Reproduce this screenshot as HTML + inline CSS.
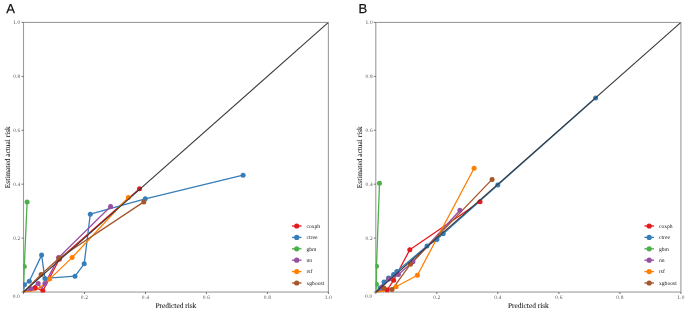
<!DOCTYPE html>
<html><head><meta charset="utf-8"><style>
html,body{margin:0;padding:0;background:#fff;width:685px;height:312px;overflow:hidden}
svg{display:block;will-change:transform} text{text-rendering:geometricPrecision}
.tk{font-family:"Liberation Serif",serif;font-size:5.4px;fill:#555;letter-spacing:0.2px}
.at{font-family:"Liberation Serif",serif;font-size:7.4px;fill:#111;stroke:#111;stroke-width:0.05px}
.lg{font-family:"Liberation Serif",serif;font-size:5.6px;fill:#222}
.lt{font-family:"Liberation Sans",sans-serif;font-size:13px;fill:#111;stroke:#111;stroke-width:0.25px}
</style></head><body>
<svg width="685" height="312" viewBox="0 0 685 312">
<rect x="23.5" y="22.45" width="304.9" height="269.6" fill="none" stroke="#9c9c9c" stroke-width="1.1"/><line x1="23.5" y1="292.0" x2="23.5" y2="294.0" stroke="#555" stroke-width="0.8"/><line x1="21.5" y1="292.0" x2="23.5" y2="292.0" stroke="#555" stroke-width="0.8"/><line x1="84.5" y1="292.0" x2="84.5" y2="294.0" stroke="#555" stroke-width="0.8"/><line x1="21.5" y1="238.1" x2="23.5" y2="238.1" stroke="#555" stroke-width="0.8"/><text x="84.5" y="299.0" class="tk" text-anchor="middle">0.2</text><text x="20.5" y="239.9" class="tk" text-anchor="end">0.2</text><line x1="145.5" y1="292.0" x2="145.5" y2="294.0" stroke="#555" stroke-width="0.8"/><line x1="21.5" y1="184.2" x2="23.5" y2="184.2" stroke="#555" stroke-width="0.8"/><text x="145.5" y="299.0" class="tk" text-anchor="middle">0.4</text><text x="20.5" y="186.0" class="tk" text-anchor="end">0.4</text><line x1="206.4" y1="292.0" x2="206.4" y2="294.0" stroke="#555" stroke-width="0.8"/><line x1="21.5" y1="130.3" x2="23.5" y2="130.3" stroke="#555" stroke-width="0.8"/><text x="206.4" y="299.0" class="tk" text-anchor="middle">0.6</text><text x="20.5" y="132.1" class="tk" text-anchor="end">0.6</text><line x1="267.4" y1="292.0" x2="267.4" y2="294.0" stroke="#555" stroke-width="0.8"/><line x1="21.5" y1="76.4" x2="23.5" y2="76.4" stroke="#555" stroke-width="0.8"/><text x="267.4" y="299.0" class="tk" text-anchor="middle">0.8</text><text x="20.5" y="78.2" class="tk" text-anchor="end">0.8</text><line x1="328.4" y1="292.0" x2="328.4" y2="294.0" stroke="#555" stroke-width="0.8"/><line x1="21.5" y1="22.4" x2="23.5" y2="22.4" stroke="#555" stroke-width="0.8"/><text x="328.4" y="299.0" class="tk" text-anchor="middle">1.0</text><text x="20.5" y="24.2" class="tk" text-anchor="end">1.0</text><text x="20.0" y="297.5" class="tk" text-anchor="end">0.0</text><text x="175.9" y="307.8" class="at" text-anchor="middle">Predicted risk</text><text transform="translate(9.9,157.2) rotate(-90)" class="at" text-anchor="middle">Estimated actual risk</text><clipPath id="cA"><rect x="23.10" y="22.45" width="305.30" height="269.95"/></clipPath><g clip-path="url(#cA)"><path d="M23.5,292.1 L35.2,287.7 L42.9,290.8 L59.3,259.3 L139.5,188.8" fill="none" stroke="#E41A1C" stroke-width="1.3" stroke-linejoin="round"/><path d="M23.5,292.1 L24.4,284.8 L29.3,281.2 L41.6,255.1 L44.9,278.4 L75.0,276.2 L84.2,263.8 L90.3,214.2 L145.3,198.8 L243.1,175.2" fill="none" stroke="#377EB8" stroke-width="1.3" stroke-linejoin="round"/><path d="M23.5,292.1 L24.3,266.4 L27.1,202.0" fill="none" stroke="#4DAF4A" stroke-width="1.3" stroke-linejoin="round"/><path d="M23.5,292.1 L30.8,288.8 L38.2,283.4 L41.5,288.8 L44.9,283.6 L58.6,257.6 L110.6,206.5" fill="none" stroke="#984EA3" stroke-width="1.3" stroke-linejoin="round"/><path d="M23.5,292.1 L35.5,290.4 L44.5,284.0 L49.6,279.1 L72.1,257.6 L128.3,197.4" fill="none" stroke="#FF7F00" stroke-width="1.3" stroke-linejoin="round"/><path d="M23.5,292.1 L41.1,274.5 L59.0,258.2 L143.8,201.9" fill="none" stroke="#A65628" stroke-width="1.3" stroke-linejoin="round"/><circle cx="35.2" cy="287.7" r="2.5" fill="#E41A1C"/><circle cx="42.9" cy="290.8" r="2.5" fill="#E41A1C"/><circle cx="59.3" cy="259.3" r="2.5" fill="#E41A1C"/><circle cx="139.5" cy="188.8" r="2.5" fill="#E41A1C"/><circle cx="24.4" cy="284.8" r="2.5" fill="#377EB8"/><circle cx="29.3" cy="281.2" r="2.5" fill="#377EB8"/><circle cx="41.6" cy="255.1" r="2.5" fill="#377EB8"/><circle cx="44.9" cy="278.4" r="2.5" fill="#377EB8"/><circle cx="75.0" cy="276.2" r="2.5" fill="#377EB8"/><circle cx="84.2" cy="263.8" r="2.5" fill="#377EB8"/><circle cx="90.3" cy="214.2" r="2.5" fill="#377EB8"/><circle cx="145.3" cy="198.8" r="2.5" fill="#377EB8"/><circle cx="243.1" cy="175.2" r="2.5" fill="#377EB8"/><circle cx="24.3" cy="266.4" r="2.5" fill="#4DAF4A"/><circle cx="27.1" cy="202.0" r="2.5" fill="#4DAF4A"/><circle cx="30.8" cy="288.8" r="2.5" fill="#984EA3"/><circle cx="38.2" cy="283.4" r="2.5" fill="#984EA3"/><circle cx="44.9" cy="283.6" r="2.5" fill="#984EA3"/><circle cx="58.6" cy="257.6" r="2.5" fill="#984EA3"/><circle cx="110.6" cy="206.5" r="2.5" fill="#984EA3"/><circle cx="49.6" cy="279.1" r="2.5" fill="#FF7F00"/><circle cx="72.1" cy="257.6" r="2.5" fill="#FF7F00"/><circle cx="128.3" cy="197.4" r="2.5" fill="#FF7F00"/><circle cx="41.1" cy="274.5" r="2.5" fill="#A65628"/><circle cx="59.0" cy="258.2" r="2.5" fill="#A65628"/><circle cx="143.8" cy="201.9" r="2.5" fill="#A65628"/><line x1="23.5" y1="292.0" x2="328.4" y2="22.45" stroke="#383838" stroke-width="1.05"/></g><line x1="291.9" y1="226.0" x2="301.5" y2="226.0" stroke="#E41A1C" stroke-width="1.3"/><circle cx="296.7" cy="226.0" r="2.6" fill="#E41A1C"/><text x="306.5" y="227.7" class="lg">coxph</text><line x1="291.9" y1="237.4" x2="301.5" y2="237.4" stroke="#377EB8" stroke-width="1.3"/><circle cx="296.7" cy="237.4" r="2.6" fill="#377EB8"/><text x="306.5" y="239.1" class="lg">ctree</text><line x1="291.9" y1="248.8" x2="301.5" y2="248.8" stroke="#4DAF4A" stroke-width="1.3"/><circle cx="296.7" cy="248.8" r="2.6" fill="#4DAF4A"/><text x="306.5" y="250.5" class="lg">gbm</text><line x1="291.9" y1="260.2" x2="301.5" y2="260.2" stroke="#984EA3" stroke-width="1.3"/><circle cx="296.7" cy="260.2" r="2.6" fill="#984EA3"/><text x="306.5" y="261.9" class="lg">nn</text><line x1="291.9" y1="271.6" x2="301.5" y2="271.6" stroke="#FF7F00" stroke-width="1.3"/><circle cx="296.7" cy="271.6" r="2.6" fill="#FF7F00"/><text x="306.5" y="273.3" class="lg">rsf</text><line x1="291.9" y1="283.0" x2="301.5" y2="283.0" stroke="#A65628" stroke-width="1.3"/><circle cx="296.7" cy="283.0" r="2.6" fill="#A65628"/><text x="306.5" y="284.7" class="lg">xgboost</text><text x="6.2" y="12.5" class="lt">A</text><rect x="375.8" y="22.45" width="305.1" height="269.6" fill="none" stroke="#9c9c9c" stroke-width="1.1"/><line x1="375.8" y1="292.0" x2="375.8" y2="294.0" stroke="#555" stroke-width="0.8"/><line x1="373.8" y1="292.0" x2="375.8" y2="292.0" stroke="#555" stroke-width="0.8"/><line x1="436.8" y1="292.0" x2="436.8" y2="294.0" stroke="#555" stroke-width="0.8"/><line x1="373.8" y1="238.1" x2="375.8" y2="238.1" stroke="#555" stroke-width="0.8"/><text x="436.8" y="299.0" class="tk" text-anchor="middle">0.2</text><text x="372.8" y="239.9" class="tk" text-anchor="end">0.2</text><line x1="497.8" y1="292.0" x2="497.8" y2="294.0" stroke="#555" stroke-width="0.8"/><line x1="373.8" y1="184.2" x2="375.8" y2="184.2" stroke="#555" stroke-width="0.8"/><text x="497.8" y="299.0" class="tk" text-anchor="middle">0.4</text><text x="372.8" y="186.0" class="tk" text-anchor="end">0.4</text><line x1="558.9" y1="292.0" x2="558.9" y2="294.0" stroke="#555" stroke-width="0.8"/><line x1="373.8" y1="130.3" x2="375.8" y2="130.3" stroke="#555" stroke-width="0.8"/><text x="558.9" y="299.0" class="tk" text-anchor="middle">0.6</text><text x="372.8" y="132.1" class="tk" text-anchor="end">0.6</text><line x1="619.9" y1="292.0" x2="619.9" y2="294.0" stroke="#555" stroke-width="0.8"/><line x1="373.8" y1="76.4" x2="375.8" y2="76.4" stroke="#555" stroke-width="0.8"/><text x="619.9" y="299.0" class="tk" text-anchor="middle">0.8</text><text x="372.8" y="78.2" class="tk" text-anchor="end">0.8</text><line x1="680.9" y1="292.0" x2="680.9" y2="294.0" stroke="#555" stroke-width="0.8"/><line x1="373.8" y1="22.4" x2="375.8" y2="22.4" stroke="#555" stroke-width="0.8"/><text x="680.9" y="299.0" class="tk" text-anchor="middle">1.0</text><text x="372.8" y="24.2" class="tk" text-anchor="end">1.0</text><text x="372.3" y="297.5" class="tk" text-anchor="end">0.0</text><text x="528.4" y="307.8" class="at" text-anchor="middle">Predicted risk</text><text transform="translate(362.2,157.2) rotate(-90)" class="at" text-anchor="middle">Estimated actual risk</text><clipPath id="cB"><rect x="375.40" y="22.45" width="305.50" height="269.95"/></clipPath><g clip-path="url(#cB)"><path d="M375.8,292.1 L387.2,289.9 L393.6,280.3 L409.8,249.7 L480.0,201.7" fill="none" stroke="#E41A1C" stroke-width="1.3" stroke-linejoin="round"/><path d="M375.8,292.1 L380.0,288.0 L384.0,281.9 L388.5,278.0 L393.6,274.6 L396.8,271.4 L427.0,245.9 L436.9,239.6 L443.2,233.8 L497.8,185.0 L595.6,97.9" fill="none" stroke="#377EB8" stroke-width="1.3" stroke-linejoin="round"/><path d="M375.8,292.1 L376.4,284.3 L376.5,266.2 L379.5,183.2" fill="none" stroke="#4DAF4A" stroke-width="1.3" stroke-linejoin="round"/><path d="M375.8,292.1 L382.0,287.0 L388.8,279.0 L398.4,274.6 L412.9,261.8 L459.9,210.3" fill="none" stroke="#984EA3" stroke-width="1.3" stroke-linejoin="round"/><path d="M375.8,292.1 L384.0,291.0 L396.0,286.8 L417.4,275.2 L474.1,168.2" fill="none" stroke="#FF7F00" stroke-width="1.3" stroke-linejoin="round"/><path d="M375.8,292.1 L384.0,288.0 L392.0,289.6 L410.5,264.2 L492.1,179.4" fill="none" stroke="#A65628" stroke-width="1.3" stroke-linejoin="round"/><circle cx="387.2" cy="289.9" r="2.5" fill="#E41A1C"/><circle cx="393.6" cy="280.3" r="2.5" fill="#E41A1C"/><circle cx="409.8" cy="249.7" r="2.5" fill="#E41A1C"/><circle cx="480.0" cy="201.7" r="2.5" fill="#E41A1C"/><circle cx="380.0" cy="288.0" r="2.5" fill="#377EB8"/><circle cx="384.0" cy="281.9" r="2.5" fill="#377EB8"/><circle cx="388.5" cy="278.0" r="2.5" fill="#377EB8"/><circle cx="393.6" cy="274.6" r="2.5" fill="#377EB8"/><circle cx="396.8" cy="271.4" r="2.5" fill="#377EB8"/><circle cx="427.0" cy="245.9" r="2.5" fill="#377EB8"/><circle cx="436.9" cy="239.6" r="2.5" fill="#377EB8"/><circle cx="443.2" cy="233.8" r="2.5" fill="#377EB8"/><circle cx="497.8" cy="185.0" r="2.5" fill="#377EB8"/><circle cx="595.6" cy="97.9" r="2.5" fill="#377EB8"/><circle cx="376.4" cy="284.3" r="2.5" fill="#4DAF4A"/><circle cx="376.5" cy="266.2" r="2.5" fill="#4DAF4A"/><circle cx="379.5" cy="183.2" r="2.5" fill="#4DAF4A"/><circle cx="382.0" cy="287.0" r="2.5" fill="#984EA3"/><circle cx="388.8" cy="279.0" r="2.5" fill="#984EA3"/><circle cx="398.4" cy="274.6" r="2.5" fill="#984EA3"/><circle cx="412.9" cy="261.8" r="2.5" fill="#984EA3"/><circle cx="459.9" cy="210.3" r="2.5" fill="#984EA3"/><circle cx="396.0" cy="286.8" r="2.5" fill="#FF7F00"/><circle cx="417.4" cy="275.2" r="2.5" fill="#FF7F00"/><circle cx="474.1" cy="168.2" r="2.5" fill="#FF7F00"/><circle cx="384.0" cy="288.0" r="2.5" fill="#A65628"/><circle cx="392.0" cy="289.6" r="2.5" fill="#A65628"/><circle cx="410.5" cy="264.2" r="2.5" fill="#A65628"/><circle cx="492.1" cy="179.4" r="2.5" fill="#A65628"/><line x1="375.8" y1="292.0" x2="680.9" y2="22.45" stroke="#383838" stroke-width="1.05"/></g><line x1="644.4" y1="226.0" x2="654.0" y2="226.0" stroke="#E41A1C" stroke-width="1.3"/><circle cx="649.2" cy="226.0" r="2.6" fill="#E41A1C"/><text x="659.0" y="227.7" class="lg">coxph</text><line x1="644.4" y1="237.4" x2="654.0" y2="237.4" stroke="#377EB8" stroke-width="1.3"/><circle cx="649.2" cy="237.4" r="2.6" fill="#377EB8"/><text x="659.0" y="239.1" class="lg">ctree</text><line x1="644.4" y1="248.8" x2="654.0" y2="248.8" stroke="#4DAF4A" stroke-width="1.3"/><circle cx="649.2" cy="248.8" r="2.6" fill="#4DAF4A"/><text x="659.0" y="250.5" class="lg">gbm</text><line x1="644.4" y1="260.2" x2="654.0" y2="260.2" stroke="#984EA3" stroke-width="1.3"/><circle cx="649.2" cy="260.2" r="2.6" fill="#984EA3"/><text x="659.0" y="261.9" class="lg">nn</text><line x1="644.4" y1="271.6" x2="654.0" y2="271.6" stroke="#FF7F00" stroke-width="1.3"/><circle cx="649.2" cy="271.6" r="2.6" fill="#FF7F00"/><text x="659.0" y="273.3" class="lg">rsf</text><line x1="644.4" y1="283.0" x2="654.0" y2="283.0" stroke="#A65628" stroke-width="1.3"/><circle cx="649.2" cy="283.0" r="2.6" fill="#A65628"/><text x="659.0" y="284.7" class="lg">xgboost</text><text x="358.6" y="12.5" class="lt">B</text>
</svg>
</body></html>
